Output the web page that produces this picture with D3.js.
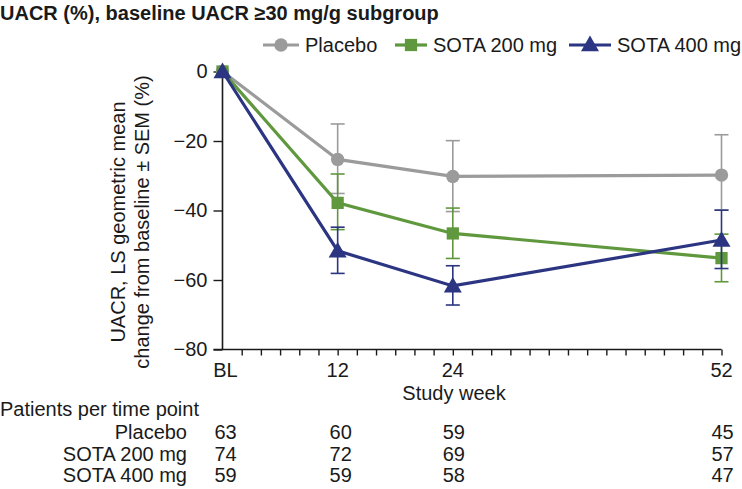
<!DOCTYPE html>
<html><head><meta charset="utf-8">
<script src="https://cdn.jsdelivr.net/npm/d3@7"></script>
<style>body{margin:0;background:#fff}svg{display:block}text{font-family:"Liberation Sans",Arial,sans-serif;fill:#1a1a1a}</style>
</head><body>
<script>
const weeks = [0, 12, 24, 52];
const weekLabels = ["BL", "12", "24", "52"];
const seriesNames = ["Placebo", "SOTA 200 mg", "SOTA 400 mg"];
const placeboMean = [0, -25.3, -30.2, -29.8];
const placeboUpper = [0, -15.1, -19.9, -18.2];
const placeboLower = [0, -35.1, -40.3, -39.9];
const sota200Mean = [0, -37.8, -46.6, -53.7];
const sota200Upper = [0, -29.5, -39.3, -46.8];
const sota200Lower = [0, -45.5, -53.8, -60.5];
const sota400Mean = [0, -51.6, -61.7, -48.5];
const sota400Upper = [0, -44.8, -55.9, -39.9];
const sota400Lower = [0, -58.1, -67.2, -56.7];
const yTicks = [0, -20, -40, -60, -80];
const patientsPlacebo = [63, 60, 59, 45];
const patients200 = [74, 72, 69, 57];
const patients400 = [59, 59, 58, 47];

const colors = ["#9b9b9b", "#5f983d", "#2b3581"];
const symbols = [d3.symbolCircle, d3.symbolSquare, d3.symbolTriangle];
const symSizes = [140, 150, 140];
const FS = 20;

const W = 742, H = 489;
const svg = d3.select("body").append("svg").attr("width", W).attr("height", H);
const x = d3.scaleLinear().domain([0, 52]).range([222.5, 721.5]);
const y = d3.scaleLinear().domain([-80, 0]).range([349.5, 71.5]);

// Title
svg.append("text").attr("x", 0).attr("y", 20).attr("font-size", FS).attr("font-weight", "bold")
  .text("UACR (%), baseline UACR ≥30 mg/g subgroup");

// Axes
const yAxis = d3.axisLeft(y).tickValues(yTicks).tickSize(9).tickPadding(6)
  .tickFormat(d => d === 0 ? "0" : "\u2212" + Math.abs(d));
const gy = svg.append("g").attr("transform", `translate(${x(0)},0)`).call(yAxis);
gy.select(".domain").attr("d", `M0,${y(0)}V${y(-80)}`);

const xAxis = d3.axisBottom(x).tickValues(d3.range(2, 53, 2)).tickSize(6).tickFormat("");
const gx = svg.append("g").attr("transform", `translate(0,${y(-80)})`).call(xAxis);
gx.select(".domain").attr("d", `M${x(0)-9},0H${x(52)}`);

[gx, gy].forEach(g => {
  g.selectAll(".domain").attr("stroke", "#1a1a1a").attr("stroke-width", 1.6);
  g.selectAll(".tick line").attr("stroke", "#1a1a1a").attr("stroke-width", 1.4);
});
gy.selectAll(".tick text").attr("font-size", FS).attr("font-family", '"Liberation Sans",Arial,sans-serif').attr("fill", "#1a1a1a");

// x tick labels
svg.append("g").selectAll("text").data(weeks).join("text")
  .attr("x", d => x(d) + (d === 0 ? 3 : 0)).attr("y", 377)
  .attr("text-anchor", "middle").attr("font-size", FS)
  .text((d, i) => weekLabels[i]);

svg.append("text").attr("x", 454).attr("y", 400).attr("text-anchor", "middle").attr("font-size", FS).text("Study week");

// y axis title
const yt = svg.append("text").attr("font-size", FS).attr("text-anchor", "middle").attr("transform", "rotate(-90)");
yt.append("tspan").attr("x", -222).attr("y", 125).text("UACR, LS geometric mean");
yt.append("tspan").attr("x", -222).attr("y", 149).text("change from baseline \u00b1 SEM (%)");

// Data series
const series = [
  {mean: placeboMean, up: placeboUpper, lo: placeboLower},
  {mean: sota200Mean, up: sota200Upper, lo: sota200Lower},
  {mean: sota400Mean, up: sota400Upper, lo: sota400Lower}
];
const line = d3.line().x((d, i) => x(weeks[i])).y(d => y(d));
const capW = 7;
series.forEach((s, k) => {
  const g = svg.append("g");
  weeks.forEach((w, i) => {
    if (s.up[i] === s.lo[i]) return;
    const eb = g.append("g").attr("stroke", colors[k]).attr("stroke-width", 1.6).attr("fill", "none");
    eb.append("line").attr("x1", x(w)).attr("x2", x(w)).attr("y1", y(s.up[i])).attr("y2", y(s.lo[i]));
    eb.append("line").attr("x1", x(w) - capW).attr("x2", x(w) + capW).attr("y1", y(s.up[i])).attr("y2", y(s.up[i]));
    eb.append("line").attr("x1", x(w) - capW).attr("x2", x(w) + capW).attr("y1", y(s.lo[i])).attr("y2", y(s.lo[i]));
  });
  g.append("path").attr("d", line(s.mean)).attr("fill", "none").attr("stroke", colors[k]).attr("stroke-width", 3.2);
  g.selectAll("path.m").data(s.mean).join("path").attr("class", "m")
    .attr("transform", (d, i) => `translate(${x(weeks[i])},${y(d) + (k === 2 ? 1.5 : 0)})`)
    .attr("d", d3.symbol(symbols[k], symSizes[k])).attr("fill", colors[k]);
});

// Legend
const legendItems = [
  {x1: 263, x2: 299, tx: 305},
  {x1: 395, x2: 427, tx: 433},
  {x1: 569, x2: 611, tx: 617}
];
const lg = svg.append("g");
legendItems.forEach((it, k) => {
  lg.append("line").attr("x1", it.x1).attr("x2", it.x2).attr("y1", 45).attr("y2", 45)
    .attr("stroke", colors[k]).attr("stroke-width", 3.2);
  lg.append("path").attr("transform", `translate(${(it.x1 + it.x2) / 2},${45 + (k === 2 ? 1 : 0)})`)
    .attr("d", d3.symbol(symbols[k], symSizes[k])).attr("fill", colors[k]);
  lg.append("text").attr("x", it.tx).attr("y", 52).attr("font-size", FS).text(seriesNames[k]);
});

// Patients table
svg.append("text").attr("x", 0).attr("y", 416).attr("font-size", FS).text("Patients per time point");
const rows = [patientsPlacebo, patients200, patients400];
const rowY = [438.5, 460.5, 481.5];
rows.forEach((r, k) => {
  svg.append("text").attr("x", 187).attr("y", rowY[k]).attr("text-anchor", "end").attr("font-size", FS).text(seriesNames[k]);
  svg.append("g").selectAll("text").data(r).join("text")
    .attr("x", (d, i) => x(weeks[i]) + (i < 2 ? 3 : 1)).attr("y", rowY[k])
    .attr("text-anchor", "middle").attr("font-size", FS).text(d => d);
});
</script>
</body></html>
